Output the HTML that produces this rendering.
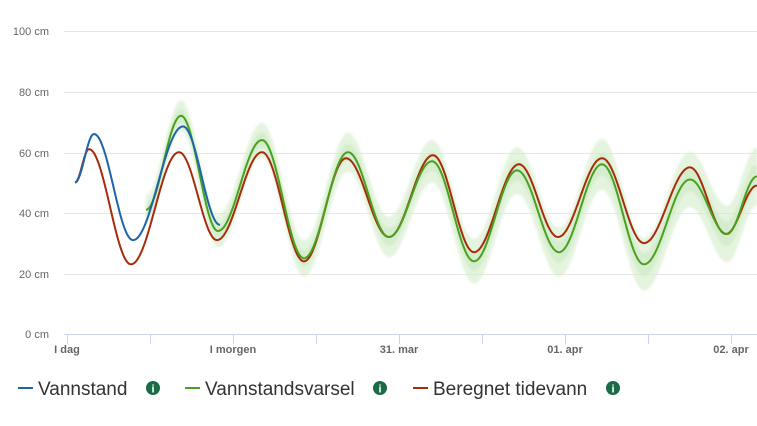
<!DOCTYPE html>
<html><head><meta charset="utf-8"><style>
body{margin:0;background:#fff;width:757px;height:426px;overflow:hidden;font-family:"Liberation Sans",sans-serif}
</style></head><body>
<svg id="s" width="757" height="426" xmlns="http://www.w3.org/2000/svg" style="position:absolute;left:0;top:0">
<defs><filter id="bl" x="-5%" y="-20%" width="110%" height="140%"><feGaussianBlur stdDeviation="1"/></filter></defs>
<g stroke="#e6e6e6" stroke-width="1">
<line x1="64" x2="757" y1="31.5" y2="31.5"/><line x1="64" x2="757" y1="92.5" y2="92.5"/>
<line x1="64" x2="757" y1="153.5" y2="153.5"/><line x1="64" x2="757" y1="213.5" y2="213.5"/>
<line x1="64" x2="757" y1="274.5" y2="274.5"/>
</g>
<line x1="64" x2="757" y1="334.5" y2="334.5" stroke="#ccd6eb"/>
<g stroke="#ccd6eb"><line x1="67.5" x2="67.5" y1="334" y2="344"/><line x1="150.5" x2="150.5" y1="334" y2="344"/><line x1="233.5" x2="233.5" y1="334" y2="344"/><line x1="316.5" x2="316.5" y1="334" y2="344"/><line x1="399.5" x2="399.5" y1="334" y2="344"/><line x1="482.5" x2="482.5" y1="334" y2="344"/><line x1="565.5" x2="565.5" y1="334" y2="344"/><line x1="648.5" x2="648.5" y1="334" y2="344"/><line x1="731.5" x2="731.5" y1="334" y2="344"/></g>
<g font-size="11" fill="#666" text-anchor="end">
<text x="49" y="35">100 cm</text><text x="49" y="96">80 cm</text><text x="49" y="157">60 cm</text><text x="49" y="217">40 cm</text><text x="49" y="278">20 cm</text><text x="49" y="338">0 cm</text>
</g>
<g font-size="11" fill="#666" text-anchor="middle" font-weight="bold">
<text x="67" y="353">I dag</text><text x="233" y="353">I morgen</text><text x="399" y="353">31. mar</text><text x="565" y="353">01. apr</text><text x="731" y="353">02. apr</text>
</g>
<g filter="url(#bl)">
<path id="band" fill="#d3ecca" fill-opacity="0.6"/>
<path id="band2" fill="#c4e4b8" fill-opacity="0.45"/>
</g>
<path id="red" fill="none" stroke="#a82c0c" stroke-width="2"/>
<path id="green" fill="none" stroke="#4aa120" stroke-width="2"/>
<path id="blue" fill="none" stroke="#1f63a8" stroke-width="2"/>
<g font-size="19" fill="#333">
<line x1="18" x2="33" y1="388" y2="388" stroke="#1f63a8" stroke-width="2"/><text x="38" y="395">Vannstand</text>
<circle cx="153" cy="388" r="7" fill="#1a6b46"/><text x="153" y="392.5" font-size="11" fill="#fff" text-anchor="middle" font-weight="bold">i</text>
<line x1="185" x2="200" y1="388" y2="388" stroke="#4aa120" stroke-width="2"/><text x="205" y="395">Vannstandsvarsel</text>
<circle cx="380" cy="388" r="7" fill="#1a6b46"/><text x="380" y="392.5" font-size="11" fill="#fff" text-anchor="middle" font-weight="bold">i</text>
<line x1="413" x2="428" y1="388" y2="388" stroke="#a82c0c" stroke-width="2"/><text x="433" y="395">Beregnet tidevann</text>
<circle cx="613" cy="388" r="7" fill="#1a6b46"/><text x="613" y="392.5" font-size="11" fill="#fff" text-anchor="middle" font-weight="bold">i</text>
</g>
</svg>
<script>
function Y(v){return 334-3.03*v}
function interp(pts){var out=[];for(var i=0;i<pts.length-1;i++){var a=pts[i],b=pts[i+1];for(var x=a[0];x<b[0];x+=1){var t=(x-a[0])/(b[0]-a[0]);var v=a[1]+(b[1]-a[1])*(1-Math.cos(Math.PI*t))/2;out.push([x,v]);}}out.push(pts[pts.length-1]);return out}
function path(o){return o.map(function(p,i){return (i?'L':'M')+p[0].toFixed(1)+' '+Y(p[1]).toFixed(1)}).join('')}
var red=[[75,50],[89,61],[131,23],[179,60],[217,31],[262,60],[304,24],[346,58],[389,32],[433,59],[474,27],[519,56],[558,32],[602,58],[644,30],[690,55],[726,33],[757,49]];
var green=[[146,41],[181,72],[218,34],[262,64],[304,25],[348,60],[389,32],[432,57],[474,24],[517,54],[559,27],[602,56],[644,23],[690,51],[727,33],[757,52]];
var blue=[[75,50],[94,66],[133,31],[183,68.5],[220,36]];
document.getElementById('red').setAttribute('d',path(interp(red)));
var g=interp(green);
document.getElementById('green').setAttribute('d',path(g));
document.getElementById('blue').setAttribute('d',path(interp(blue)));
function band(w){var up=g.map(function(p){var k=w*(0.6+0.6*(p[0]-146)/611);return [p[0],p[1]+k]});var dn=g.map(function(p){var k=w*(0.6+0.6*(p[0]-146)/611);return [p[0],p[1]-k]}).reverse();return path(up.concat(dn))+'Z'}
document.getElementById('band').setAttribute('d',band(8));
document.getElementById('band2').setAttribute('d',band(3.5));
</script>
</body></html>
